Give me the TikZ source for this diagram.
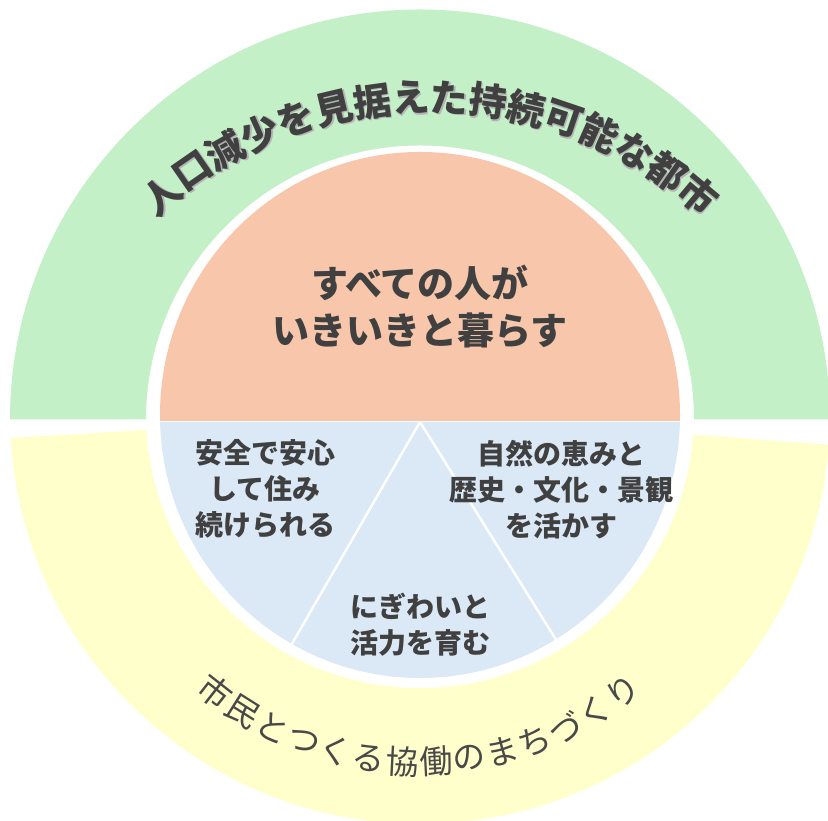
\documentclass[tikz,border=0pt]{standalone}
\usepackage{fontspec}
\usepackage{tikz}
\usetikzlibrary{positioning, calc}
\newfontfamily\jp{Noto Sans CJK JP}
\definecolor{ringTop}{HTML}{C4F0C8}
\definecolor{ringBot}{HTML}{FFFFCC}
\definecolor{coreTop}{HTML}{F7C6AB}
\definecolor{coreBot}{HTML}{DBE8F6}
\definecolor{ink}{HTML}{404040}
\definecolor{inkShade}{HTML}{B4B4B4}
\newcommand{\shd}[1]{\makebox[0pt][l]{\hspace{1.5pt}\raisebox{-1.5pt}{\textcolor{inkShade}{#1}}}#1}

\begin{document}
\begin{tikzpicture}[x=1pt, y=1pt,
  arcT/.style={font=\jp\bfseries\fontsize{38}{38}\selectfont, text=ink, inner sep=0pt},
  arcB/.style={font=\jp\fontsize{33}{33}\selectfont, text=ink!95, inner sep=0pt},
  core/.style={font=\jp\bfseries\fontsize{28}{36}\selectfont, text=ink, align=center},
  cut/.style={draw=white, line width=2.5pt}]
\useasboundingbox[fill=white] (0,0) rectangle (828,821);
\clip (0,0) rectangle (828,821);
\coordinate (gc) at (420,401.5);
\coordinate (yc) at (420,407);
\coordinate (cc) at (420,406);
\coordinate (apex) at (420,399);
\coordinate (tarc) at (430,306);
\coordinate (barc) at (419,390);
% outer ring
\fill[ringTop] ([shift={(0:410)}]gc) arc[start angle=0, end angle=180, radius=410pt]
  -- ([shift={(180:274)}]gc) arc[start angle=180, end angle=0, radius=274pt] -- cycle;
\fill[ringBot] ([shift={(183.35:410)}]yc) arc[start angle=183.35, end angle=355.7, radius=410pt]
  -- ([shift={(355.7:274)}]yc) arc[start angle=355.7, end angle=183.35, radius=274pt] -- cycle;
% inner disc
\begin{scope}
\clip (0,400) rectangle (828,821);
\fill[coreTop] (cc) ellipse[x radius=260pt, y radius=263pt];
\end{scope}
\begin{scope}
\clip (0,0) rectangle (828,398);
\fill[coreBot] (cc) ellipse[x radius=260pt, y radius=263pt];
\end{scope}
\coordinate (lcut) at ([shift={(240:262)}]apex);
\coordinate (rcut) at ([shift={(302:262)}]apex);
\draw[cut] (apex) -- (lcut);
\draw[cut] (apex) -- (rcut);
% arc texts
\foreach \ch [count=\i from 0] in {人,口,減,少,を,見,据,え,た,持,続,可,能,な,都,市} {
  \pgfmathsetmacro\ang{130-\i*16/3}
  \node[arcT, rotate=\ang-90] (t\i) at ([shift={(\ang:417)}]tarc) {\shd{\ch}};
}
\foreach \ch [count=\i from 0] in {市,民,と,つ,く,る,協,働,の,ま,ち,づ,く,り} {
  \pgfmathsetmacro\ang{232+\i*76/13}
  \node[arcB, rotate=\ang+90] (b\i) at ([shift={(\ang:331)}]barc) {\ch};
}
% core texts
\node[core, font=\jp\bfseries\fontsize{37}{47}\selectfont] (live) at (420,514) {すべての人が\\いきいきと暮らす};
\node[core] (safe) at (265,332) {安全で安心\\して住み\\続けられる};
\node[core] (nature) at (561,331) {自然の恵みと\\歴史・文化・景観\\を活かす};
\node[core] (vital) at (420,196) {にぎわいと\\活力を育む};
\end{tikzpicture}
\end{document}
